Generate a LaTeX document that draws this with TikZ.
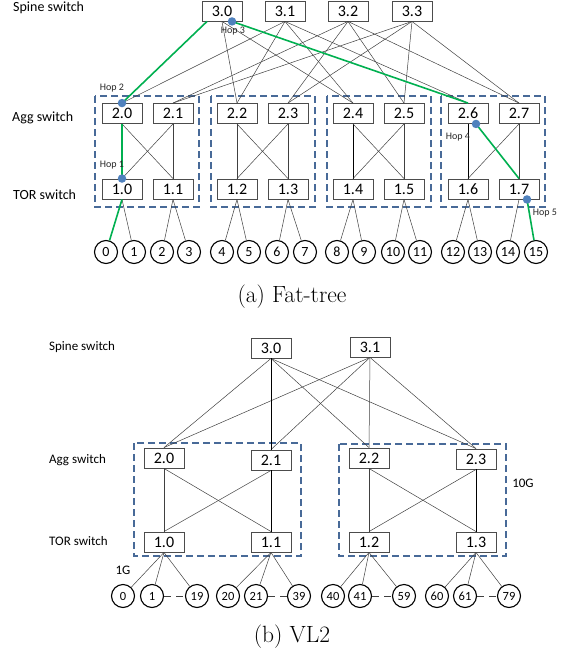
\documentclass[tikz,border=0pt]{standalone}
\usepackage{fontspec}
\newfontfamily\carlito{Carlito}
\definecolor{pathgreen}{RGB}{0,176,80}
\definecolor{dotblue}{RGB}{79,129,189}
\definecolor{podblue}{RGB}{72,106,152}
\begin{document}
\begin{tikzpicture}[x=1pt,y=-1pt,
  sw/.style={draw=black!70, line width=0.9pt, minimum width=40pt, minimum height=20pt, inner sep=0pt, fill=white, font=\carlito\fontsize{16}{16}\selectfont},
  host/.style={circle, draw=black, line width=1.1pt, minimum size=23pt, inner sep=0pt, font=\carlito\fontsize{14}{14}\selectfont},
  vhost/.style={host, font=\carlito\fontsize{12.5}{12.5}\selectfont},
  link/.style={line width=0.5pt, draw=black!75},
  strong/.style={line width=0.8pt, draw=black},
  gpath/.style={line width=1.6pt, draw=pathgreen},
  hopdot/.style={circle, fill=dotblue, inner sep=0pt, minimum size=8.5pt},
  hoplbl/.style={font=\carlito\fontsize{10}{10}\selectfont, text=black!85, inner sep=0pt},
  rowlbl/.style={anchor=west, inner sep=0pt, font=\carlito\fontsize{14}{14}\selectfont},
  vrowlbl/.style={anchor=west, inner sep=0pt, font=\carlito\fontsize{13}{13}\selectfont},
  pod/.style={draw=podblue, line width=1.5pt, dash pattern=on 7pt off 4pt},
  captxt/.style={inner sep=0pt, font=\fontsize{23.5}{28}\selectfont}]
\useasboundingbox (0,0) rectangle (564,656);

% ================= (a) Fat-tree =================
\draw[pod] (95,96) rectangle (199,207);
\draw[pod] (211,96) rectangle (315,207);
\draw[pod] (327,96) rectangle (431,207);
\draw[pod] (441,96) rectangle (545,207);

\node[rowlbl] (fl1) at (13,8) {Spine switch};
\node[rowlbl] (fl2) at (12,118) {Agg switch};
\node[rowlbl] (fl3) at (13,195) {TOR switch};

\node[sw] (s0) at (222,11) {3.0};
\node[sw] (s1) at (285,11) {3.1};
\node[sw] (s2) at (348,11) {3.2};
\node[sw] (s3) at (412,11) {3.3};

\foreach \i/\x in {0/122,1/173,2/237,3/288,4/353,5/404,6/468,7/519}{
  \node[sw] (a\i) at (\x,113.5) {2.\i};
  \node[sw] (t\i) at (\x,189) {1.\i};
}

\foreach \i/\x in {0/106,1/134,2/162,3/189,4/222,5/249,6/277,7/305,8/337,9/364,10/393,11/420,12/453,13/480,14/508,15/536}{
  \node[host] (h\i) at (\x,252) {\i};
}

% spine - agg
\foreach \s in {1}{
  \foreach \a in {0,2,4,6}{ \draw[link] (s\s.south) -- (a\a.north); }
}
\draw[link] (s0.south) -- (a2.north);
\draw[link] (s0.south) -- (a4.north);
\foreach \s in {2,3}{
  \foreach \a in {1,3,5,7}{ \draw[link] (s\s.south) -- (a\a.north); }
}

% agg - tor
\draw[link] (a0.south) -- (t1.north);
\draw[link] (a1.south) -- (t0.north);
\draw[link] (a1.south) -- (t1.north);
\draw[link] (a2.south) -- (t2.north);
\draw[link] (a2.south) -- (t3.north);
\draw[link] (a3.south) -- (t2.north);
\draw[link] (a3.south) -- (t3.north);
\draw[strong] (a4.south) -- (t4.north);
\draw[link] (a4.south) -- (t5.north);
\draw[link] (a5.south) -- (t4.north);
\draw[link] (a5.south) -- (t5.north);
\draw[strong] (a6.south) -- (t6.north);
\draw[link] (a7.south) -- (t6.north);
\draw[link] (a7.south) -- (t7.north);

% tor - hosts
\draw[link] (t0.south) -- (h1);
\draw[link] (t1.south) -- (h2);
\draw[link] (t1.south) -- (h3);
\draw[link] (t2.south) -- (h4);
\draw[link] (t2.south) -- (h5);
\draw[link] (t3.south) -- (h6);
\draw[link] (t3.south) -- (h7);
\draw[link] (t4.south) -- (h8);
\draw[link] (t4.south) -- (h9);
\draw[link] (t5.south) -- (h10);
\draw[link] (t5.south) -- (h11);
\draw[link] (t6.south) -- (h12);
\draw[link] (t6.south) -- (h13);
\draw[link] (t7.south) -- (h14);

% green path
\coordinate (g0) at ([xshift=-15pt]s0.south);
\coordinate (g3) at ([xshift=10pt]s0.south);
\coordinate (g4) at ([xshift=8pt]a6.south);
\coordinate (g5) at ([xshift=8pt]t7.south);
\draw[gpath] (t0.south) -- (h0);
\draw[gpath] (a0.south) -- (t0.north);
\draw[gpath] (g0) -- (a0.north);
\draw[gpath] (g3) -- (a6.north);
\draw[gpath] (g4) -- (t7.north);
\draw[gpath] (g5) -- (h15);

\node[hopdot] (d1) at (t0.north) {};
\node[hopdot] (d2) at (a0.north) {};
\node[hopdot] (d3) at (g3) {};
\node[hopdot] (d4) at (g4) {};
\node[hopdot] (d5) at (g5) {};

\node[hoplbl] (hl1) at (112,165) {Hop 1};
\node[hoplbl] (hl2) at (112,88) {Hop 2};
\node[hoplbl] (hl3) at (233,31) {Hop 3};
\node[hoplbl] (hl4) at (458,137) {Hop 4};
\node[hoplbl] (hl5) at (545,213) {Hop 5};

\node[captxt] (capa) at (292,297) {(a) Fat-tree};

% ================= (b) VL2 =================
\draw[pod] (134,443) rectangle (301,556);
\draw[pod] (339,444) rectangle (506,556);

\node[vrowlbl] (vl1) at (49,347) {Spine switch};
\node[vrowlbl] (vl2) at (49,460) {Agg switch};
\node[vrowlbl] (vl3) at (49,541) {TOR switch};

\node[sw] (vs0) at (271,348) {3.0};
\node[sw] (vs1) at (370,347) {3.1};

\node[sw] (va0) at (164,458) {2.0};
\node[sw] (va1) at (271,460) {2.1};
\node[sw] (va2) at (369,458) {2.2};
\node[sw] (va3) at (476,459) {2.3};

\node[sw] (vt0) at (164,542) {1.0};
\node[sw] (vt1) at (271,542) {1.1};
\node[sw] (vt2) at (369,542) {1.2};
\node[sw] (vt3) at (476,542) {1.3};

\foreach \n/\x in {0/123,1/152,19/197,20/228,21/256,39/299,40/333,41/360,59/404,60/437,61/465,79/509}{
  \node[vhost] (v\n) at (\x,596) {\n};
}

\foreach \s in {0,1}{
  \foreach \a in {0,1,2,3}{ \draw[link] (vs\s.south) -- (va\a.north); }
}
\draw[strong] (vs0.south) -- (va1.north);

\draw[link] (va0.south) -- (vt0.north);
\draw[link] (va0.south) -- (vt1.north);
\draw[link] (va1.south) -- (vt0.north);
\draw[strong] (va1.south) -- (vt1.north);
\draw[link] (va2.south) -- (vt2.north);
\draw[link] (va2.south) -- (vt3.north);
\draw[link] (va3.south) -- (vt2.north);
\draw[strong] (va3.south) -- (vt3.north);

\foreach \t/\p/\q/\r in {0/0/1/19,1/20/21/39,2/40/41/59,3/60/61/79}{
  \draw[link] (vt\t.south) -- (v\p);
  \draw[link] (vt\t.south) -- (v\q);
  \draw[link] (vt\t.south) -- (v\r);
  \draw[link, dash pattern=on 7pt off 5pt] (v\q) -- (v\r);
}

\node[font=\carlito\fontsize{13}{13}\selectfont, inner sep=0pt] (g1l) at (123,570) {1G};
\node[font=\carlito\fontsize{13}{13}\selectfont, inner sep=0pt] (g10l) at (523,483) {10G};

\node[captxt] (capb) at (292,637) {(b) VL2};
\end{tikzpicture}
\end{document}
